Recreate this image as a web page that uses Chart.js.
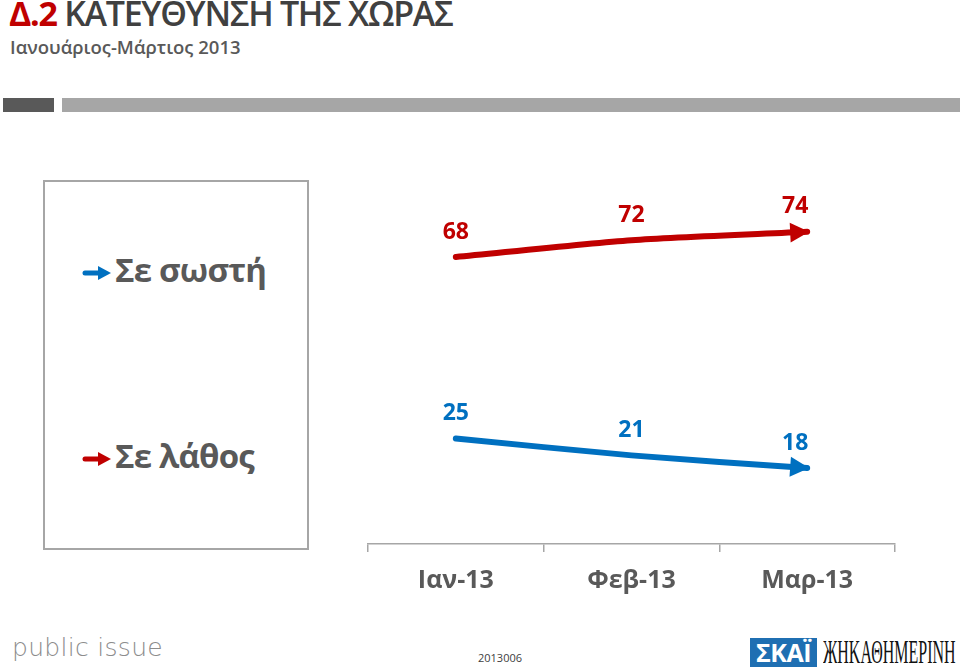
<!DOCTYPE html>
<html lang="el">
<head>
<meta charset="UTF-8">
<title>Κατεύθυνση της χώρας</title>
<script src="https://cdn.jsdelivr.net/npm/chart.js@4.4.1/dist/chart.umd.min.js"></script>
<style>
  body { margin: 0; background: #fff; font-family: "Open Sans", sans-serif; }
  #page { position: relative; width: 960px; height: 670px; overflow: hidden; }
  .title { position: absolute; left: 9px; top: -10px; font-size: 34px; font-weight: 600; color: #404040; letter-spacing: -1.3px; white-space: nowrap; }
  .title span { color: #c00000; font-weight: 700; }
  .subtitle { position: absolute; left: 10px; top: 34px; font-size: 18.5px; font-weight: 600; color: #595959; white-space: nowrap; }
  .bar1 { position: absolute; left: 3px; top: 98px; width: 51px; height: 14px; background: #595959; }
  .bar2 { position: absolute; left: 62px; top: 98px; width: 898px; height: 14px; background: #a6a6a6; }
  .legend { position: absolute; left: 43px; top: 180px; width: 262px; height: 366px; border: 2px solid #a6a6a6; }
  .legend .item { position: absolute; left: 37px; white-space: nowrap; font-size: 33px; font-weight: 700; color: #595959; letter-spacing: -0.8px; }
  .legend svg { vertical-align: middle; margin-right: 3px; }
  #chartBox { position: absolute; left: 360px; top: 100px; width: 560px; height: 512px; }
  .pi { position: absolute; left: 12px; top: 633px; font-family: "DejaVu Sans", sans-serif; font-size: 25px; font-weight: 300; color: #8c8c8c; letter-spacing: 0.3px; }
  .code { position: absolute; left: 478px; top: 650px; font-size: 11px; color: #404040; }
  .skai { position: absolute; left: 750px; top: 638px; width: 67px; height: 29px; background: #1f6fb2; color: #fff; font-weight: 700; font-size: 25px; line-height: 29px; text-align: center; letter-spacing: -0.5px; }
  .kath { position: absolute; left: 823px; top: 633px; font-family: "Liberation Serif", serif; font-size: 34px; color: #111; transform: scaleX(0.47); transform-origin: left top; white-space: nowrap; line-height: 38px; }
</style>
</head>
<body>
<div id="page">
  <div class="title"><span>Δ.2</span> ΚΑΤΕΥΘΥΝΣΗ ΤΗΣ ΧΩΡΑΣ</div>
  <div class="subtitle">Ιανουάριος-Μάρτιος 2013</div>
  <div class="bar1"></div>
  <div class="bar2"></div>
  <div class="legend" id="legend"></div>
  <div id="chartBox"><canvas id="lineChart"></canvas></div>
  <div class="pi">public issue</div>
  <div class="code">2013006</div>
  <div class="skai">ΣΚΑΪ</div>
  <div class="kath">ЖΗΚΑΘΗΜΕΡΙΝΗ</div>
</div>

<script>
  // data
  const months = ['Ιαν-13', 'Φεβ-13', 'Μαρ-13'];
  const rightWay = [68, 72, 74];
  const wrongWay = [25, 21, 18];
  const seriesNames = ['Σε σωστή', 'Σε λάθος'];

  const RED = '#c00000';
  const BLUE = '#0070c0';

  // legend box (arrow colours as in the original slide)
  const legendArrows = [BLUE, RED];
  const legendTops = [65, 251];
  const legend = document.getElementById('legend');
  seriesNames.forEach(function (name, i) {
    const div = document.createElement('div');
    div.className = 'item';
    div.style.top = legendTops[i] + 'px';
    div.innerHTML = '<svg width="30" height="16"><line x1="3" y1="8" x2="18" y2="8" stroke="' + legendArrows[i] +
      '" stroke-width="5" stroke-linecap="round"/><polygon points="16,1 29,8 16,15" fill="' + legendArrows[i] + '"/></svg>' + name;
    legend.appendChild(div);
  });

  // value labels + arrow heads
  const decorate = {
    id: 'decorate',
    afterDatasetsDraw(chart) {
      const ctx = chart.ctx;
      chart.data.datasets.forEach(function (ds, i) {
        const pts = chart.getDatasetMeta(i).data;
        ctx.save();
        // arrow head on the last point
        const last = pts[pts.length - 1];
        const prev = pts[pts.length - 2];
        const ang = Math.atan2(last.y - (last.cp1y !== undefined ? last.cp1y : prev.y), last.x - (last.cp1x !== undefined ? last.cp1x : prev.x));
        ctx.translate(last.x + 2, last.y);
        ctx.rotate(ang);
        ctx.fillStyle = ds.borderColor;
        ctx.beginPath();
        ctx.moveTo(0, 0);
        ctx.lineTo(-19, -10);
        ctx.lineTo(-19, 10);
        ctx.closePath();
        ctx.fill();
        ctx.restore();

        ctx.save();
        ctx.fillStyle = ds.borderColor;
        ctx.font = 'bold 23px "Open Sans"';
        ctx.textAlign = 'center';
        ctx.textBaseline = 'middle';
        pts.forEach(function (p, j) {
          const dx = j === pts.length - 1 ? -12 : 0;
          ctx.fillText(ds.data[j], p.x + dx, p.y - 25);
        });
        ctx.restore();
      });
    }
  };

  new Chart(document.getElementById('lineChart'), {
    type: 'line',
    data: {
      labels: months,
      datasets: [
        { label: seriesNames[0], data: rightWay, borderColor: RED, borderWidth: 6, tension: 0.25, pointRadius: 0, borderCapStyle: 'round' },
        { label: seriesNames[1], data: wrongWay, borderColor: BLUE, borderWidth: 6, tension: 0.25, pointRadius: 0, borderCapStyle: 'round' }
      ]
    },
    options: {
      responsive: true,
      maintainAspectRatio: false,
      animation: false,
      layout: { padding: { left: 8, right: 25, top: 22, bottom: 2 } },
      plugins: { legend: { display: false }, tooltip: { enabled: false } },
      scales: {
        x: {
          offset: true,
          grid: { offset: true, drawOnChartArea: false, drawTicks: true, tickLength: 8, color: '#a6a6a6', lineWidth: 1.5 },
          border: { display: true, color: '#a6a6a6', width: 1.5 },
          ticks: { color: '#595959', font: { family: 'Open Sans', size: 25, weight: 'bold' }, padding: 14 }
        },
        y: { display: false, min: 0, max: 100 }
      }
    },
    plugins: [decorate]
  });
</script>
</body>
</html>
